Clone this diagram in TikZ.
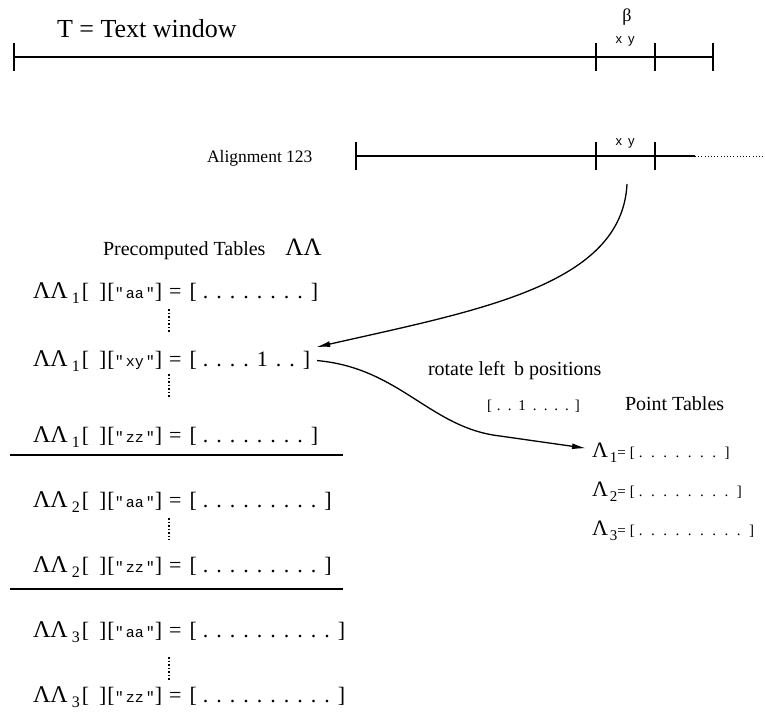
\documentclass[tikz,border=0pt]{standalone}
\usepackage{fontspec}
\setmainfont{Liberation Serif}
\newfontfamily\monof{Liberation Mono}
\newfontfamily\sansf{Liberation Sans}
\usetikzlibrary{arrows.meta}
\newcommand{\fs}[1]{\fontsize{#1}{#1}\selectfont}
\newcommand{\pd}{.\hspace{8pt}}
\newcommand{\sd}{.\hspace{8.5pt}}
\newcommand{\tabrow}[3]{{\fs{24}ΛΛ}\hspace{4pt}\raisebox{-5pt}{\fs{16}#1}\hspace{2pt}{\fs{22}[\hspace{10pt}]\hspace{1pt}[}{\monof\fs{15}"\hspace{2pt}#2\hspace{2pt}"}{\fs{22}]\hspace{7pt}=\hspace{8pt}[\hspace{6pt}#3]}}
\newcommand{\ptrow}[2]{{\fs{22}Λ}\hspace{2pt}\raisebox{-5pt}{\fs{15}#1}{\fs{15}=\hspace{4pt}[\hspace{4pt}#2]}}
\begin{document}
\begin{tikzpicture}[x=1pt,y=-1pt,
  lbl/.style={inner sep=0pt, outer sep=0pt},
  mainline/.style={line width=1.2pt},
  arr/.style={line width=1.3pt,-{Latex[length=14pt,width=6pt]}},
  dotv/.style={line width=2pt, dash pattern=on 1.6pt off 1.9pt},
  dotl/.style={line width=1pt, dash pattern=on 1pt off 2.2pt},
  rule/.style={line width=1.3pt}]
\useasboundingbox (0,0) rectangle (765,723);
% text window line
\coordinate (T0) at (14,57);
\coordinate (T1) at (596,57);
\coordinate (T2) at (655,57);
\coordinate (T3) at (713,57);
\draw[mainline] (T0) -- (T3);
\foreach \c in {T0,T1,T2,T3} \draw[mainline] ([yshift=14pt]\c) -- ([yshift=-14pt]\c);
\node[lbl, anchor=base west, font=\fs{26}] (title) at (57,37) {T = Text window};
\node[lbl, font=\fs{18}] (beta) at (627,17) {β};
\node[lbl, font=\sansf\fs{13}] (xy1) at (625,41) {x\hspace{6pt}y};
% alignment line
\coordinate (A0) at (356,156);
\coordinate (A1) at (596,156);
\coordinate (A2) at (655,156);
\coordinate (A3) at (695,156);
\coordinate (A4) at (765,156);
\draw[mainline] (A0) -- (A3);
\draw[dotl] (A3) -- (A4);
\foreach \c in {A0,A1,A2} \draw[mainline] ([yshift=14pt]\c) -- ([yshift=-14pt]\c);
\node[lbl, anchor=base west, font=\fs{17.5}] (align) at (207,162) {Alignment 123};
\node[lbl, font=\sansf\fs{13}] (xy2) at (625,143) {x\hspace{6pt}y};
\coordinate (astart) at (627,184);
% precomputed tables
\node[lbl, anchor=base west, font=\fs{20}] (pre) at (103,255) {Precomputed Tables\hspace{20pt}{\fs{25}ΛΛ}};
\node[lbl, anchor=base west] (r1) at (33,298) {\tabrow{1}{aa}{\pd\pd\pd\pd\pd\pd\pd\pd}};
\node[lbl, anchor=base west] (r2) at (33,366) {\tabrow{1}{xy}{\pd\pd\pd\pd 1\hspace{8pt}\pd\pd}};
\node[lbl, anchor=base west] (r3) at (33,442) {\tabrow{1}{zz}{\pd\pd\pd\pd\pd\pd\pd\pd}};
\node[lbl, anchor=base west] (r4) at (33,507) {\tabrow{2}{aa}{\pd\pd\pd\pd\pd\pd\pd\pd\pd}};
\node[lbl, anchor=base west] (r5) at (33,572) {\tabrow{2}{zz}{\pd\pd\pd\pd\pd\pd\pd\pd\pd}};
\node[lbl, anchor=base west] (r6) at (33,637) {\tabrow{3}{aa}{\pd\pd\pd\pd\pd\pd\pd\pd\pd\pd}};
\node[lbl, anchor=base west] (r7) at (33,702) {\tabrow{3}{zz}{\pd\pd\pd\pd\pd\pd\pd\pd\pd\pd}};
\draw[dotv] (169,309) -- (169,332);
\draw[dotv] (169,374) -- (169,398);
\draw[dotv] (169,518) -- (169,540);
\draw[dotv] (169,657) -- (169,681);
\draw[rule] (10,455) -- (343,455);
\draw[rule] (10,589) -- (343,589);
% point tables
\node[lbl, anchor=base west, font=\fs{20}] (rot) at (428,375) {rotate left\hspace{9pt}b positions};
\node[lbl, anchor=base west, font=\fs{15}] (rot2) at (487,410) {[\hspace{5pt}.\hspace{7pt}.\hspace{7pt}1\hspace{7pt}.\hspace{7pt}.\hspace{7pt}.\hspace{7pt}.\hspace{6pt}]};
\node[lbl, anchor=base west, font=\fs{20}] (pt) at (625,410) {Point Tables};
\node[lbl, anchor=base west] (p1) at (592,457) {\ptrow{1}{\sd\sd\sd\sd\sd\sd\sd}};
\node[lbl, anchor=base west] (p2) at (592,496) {\ptrow{2}{\sd\sd\sd\sd\sd\sd\sd\sd}};
\node[lbl, anchor=base west] (p3) at (592,535) {\ptrow{3}{\sd\sd\sd\sd\sd\sd\sd\sd\sd}};
% arrows
\draw[arr] (astart) .. controls (622,285) and (480,310) .. ([xshift=6pt,yshift=3pt]r2.north east);
\draw[arr] ([xshift=7pt]r2.east) .. controls (400,368) and (430,428) .. (500,436) -- ([xshift=-6pt,yshift=4pt]p1.west);
\end{tikzpicture}
\end{document}
